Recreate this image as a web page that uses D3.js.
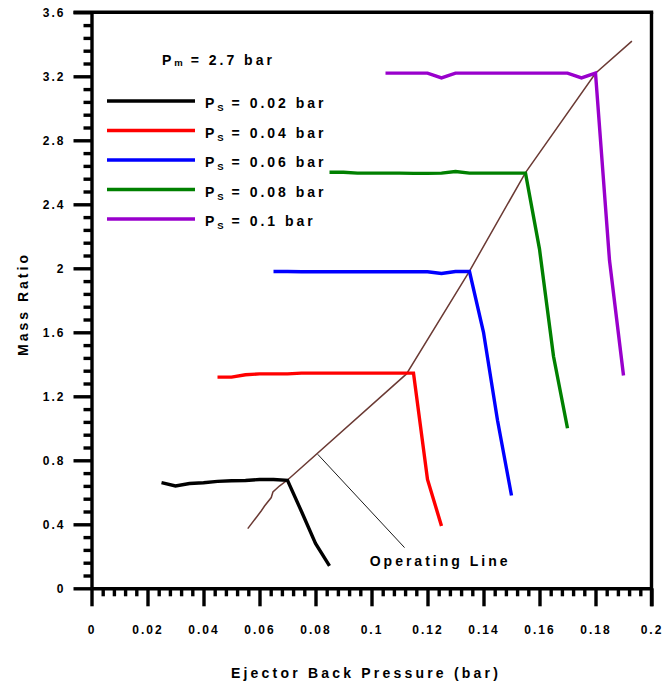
<!DOCTYPE html>
<html>
<head>
<meta charset="utf-8">
<script src="https://cdn.jsdelivr.net/npm/d3@7"></script>
<style>
  body { margin: 0; background: #fff; }
  text { font-family: "Liberation Sans", Arial, sans-serif; font-weight: bold; fill: #000; }
</style>
</head>
<body>
<div id="chart"></div>
<script>
// back pressure (bar) vs mass ratio, one pair of arrays per suction pressure
var bp002 = [0.025, 0.03, 0.035, 0.04, 0.045, 0.05, 0.055, 0.06, 0.065, 0.07, 0.075, 0.08, 0.085];
var mr002 = [0.66, 0.64, 0.655, 0.66, 0.668, 0.672, 0.674, 0.68, 0.68, 0.675, 0.48, 0.28, 0.14];

var bp004 = [0.045, 0.05, 0.055, 0.06, 0.065, 0.07, 0.075, 0.08, 0.085, 0.09, 0.095, 0.1, 0.105, 0.11, 0.115, 0.12, 0.125];
var mr004 = [1.32, 1.32, 1.335, 1.34, 1.34, 1.34, 1.345, 1.345, 1.345, 1.345, 1.345, 1.345, 1.345, 1.345, 1.345, 0.68, 0.39];

var bp006 = [0.065, 0.07, 0.075, 0.08, 0.085, 0.09, 0.095, 0.1, 0.105, 0.11, 0.115, 0.12, 0.125, 0.13, 0.135, 0.14, 0.145, 0.15];
var mr006 = [1.98, 1.98, 1.978, 1.978, 1.978, 1.978, 1.978, 1.978, 1.978, 1.978, 1.978, 1.978, 1.968, 1.98, 1.98, 1.6, 1.05, 0.58];

var bp008 = [0.085, 0.09, 0.095, 0.1, 0.105, 0.11, 0.115, 0.12, 0.125, 0.13, 0.135, 0.14, 0.145, 0.15, 0.155, 0.16, 0.165, 0.17];
var mr008 = [2.6, 2.6, 2.595, 2.595, 2.595, 2.595, 2.593, 2.593, 2.595, 2.605, 2.595, 2.595, 2.595, 2.595, 2.595, 2.12, 1.45, 1.0];

var bp010 = [0.105, 0.11, 0.115, 0.12, 0.125, 0.13, 0.135, 0.14, 0.145, 0.15, 0.155, 0.16, 0.165, 0.17, 0.175, 0.18, 0.185, 0.19];
var mr010 = [3.22, 3.22, 3.22, 3.22, 3.19, 3.22, 3.22, 3.22, 3.22, 3.22, 3.22, 3.22, 3.22, 3.22, 3.19, 3.22, 2.05, 1.33];

// operating line through the break points
var opX = [0.0558, 0.0606, 0.0618, 0.0642, 0.0648, 0.0671, 0.07, 0.1125, 0.135, 0.155, 0.18, 0.193];
var opY = [0.373, 0.483, 0.514, 0.567, 0.602, 0.639, 0.677, 1.34, 1.983, 2.598, 3.219, 3.42];

// leader from the operating line to its label
var annotX = [0.0808, 0.1118];
var annotY = [0.8375, 0.2544];
var annotText = "Operating Line";
var annotPos = [0.1245, 0.14];

var psLabels = ["0.02", "0.04", "0.06", "0.08", "0.1"];
var pmLabel = "2.7";
var xTitle = "Ejector Back Pressure (bar)";
var yTitle = "Mass Ratio";

var xMajor = d3.range(0, 11).map(function(i) { return +(i * 0.02).toFixed(2); });
var xMinor = d3.range(0, 51).filter(function(i) { return i % 5 != 0; }).map(function(i) { return i * 0.004; });
var yMajor = d3.range(0, 10).map(function(i) { return +(i * 0.4).toFixed(1); });
var yMinor = d3.range(0, 46).filter(function(i) { return i % 5 != 0; }).map(function(i) { return i * 0.08; });

var colors = ["#000000", "#ff0000", "#0000ff", "#008000", "#9900cc"];

var width = 665, height = 687;
var margin = { top: 12.3, right: 13.5, bottom: 98.7, left: 91.5 };

var svg = d3.select("#chart").append("svg")
    .attr("width", width)
    .attr("height", height);

var x = d3.scaleLinear().domain([0, 0.2]).range([margin.left, width - margin.right]);
var y = d3.scaleLinear().domain([0, 3.6]).range([height - margin.bottom, margin.top]);

var fmt = function(d) { return String(+d.toFixed(2)); };

// minor ticks
svg.append("g")
    .attr("transform", "translate(0," + y(0) + ")")
    .call(d3.axisBottom(x).tickValues(xMinor).tickSize(8).tickFormat(""))
    .call(function(g) { g.select(".domain").remove(); });
svg.append("g")
    .attr("transform", "translate(" + x(0) + ",0)")
    .call(d3.axisLeft(y).tickValues(yMinor).tickSize(8).tickFormat(""))
    .call(function(g) { g.select(".domain").remove(); });

// major ticks + labels
var xAxis = svg.append("g")
    .attr("transform", "translate(0," + y(0) + ")")
    .call(d3.axisBottom(x).tickValues(xMajor).tickSize(18).tickSizeOuter(0).tickPadding(19).tickFormat(fmt));
var yAxis = svg.append("g")
    .attr("transform", "translate(" + x(0) + ",0)")
    .call(d3.axisLeft(y).tickValues(yMajor).tickSize(18).tickSizeOuter(0).tickPadding(8).tickFormat(fmt));

svg.selectAll(".tick line, .domain")
    .attr("stroke", "#000")
    .attr("stroke-width", 3.4);
svg.selectAll(".tick text")
    .attr("font-family", "Liberation Sans, Arial, sans-serif")
    .attr("font-size", 12)
    .attr("font-weight", "bold")
    .attr("letter-spacing", 2);

// top and right frame
svg.append("line")
    .attr("x1", x(0) - 18).attr("x2", x(0.2) + 1.7)
    .attr("y1", y(3.6)).attr("y2", y(3.6))
    .attr("stroke", "#000").attr("stroke-width", 3.4);
svg.append("line")
    .attr("x1", x(0.2)).attr("x2", x(0.2))
    .attr("y1", y(3.6)).attr("y2", y(0) + 18)
    .attr("stroke", "#000").attr("stroke-width", 3.4);

var line = d3.line()
    .x(function(d) { return x(d[0]); })
    .y(function(d) { return y(d[1]); });

function pairs(a, b) { return a.map(function(v, i) { return [v, b[i]]; }); }

// operating line
svg.append("path")
    .datum(pairs(opX, opY))
    .attr("d", line)
    .attr("fill", "none")
    .attr("stroke", "#6b3a34")
    .attr("stroke-width", 1.5);

svg.append("path")
    .datum(pairs(annotX, annotY))
    .attr("d", line)
    .attr("fill", "none")
    .attr("stroke", "#000")
    .attr("stroke-width", 0.9);

svg.append("text")
    .attr("x", x(annotPos[0]))
    .attr("y", y(annotPos[1]))
    .attr("text-anchor", "middle")
    .attr("font-size", 14)
    .attr("letter-spacing", 3)
    .text(annotText);

var seriesX = [bp002, bp004, bp006, bp008, bp010];
var seriesY = [mr002, mr004, mr006, mr008, mr010];

svg.selectAll(".series")
    .data(seriesX)
    .enter().append("path")
    .attr("class", "series")
    .attr("d", function(d, i) { return line(pairs(d, seriesY[i])); })
    .attr("fill", "none")
    .attr("stroke", function(d, i) { return colors[i]; })
    .attr("stroke-width", 3.4);

// legend
var pm = svg.append("text")
    .attr("x", 162)
    .attr("y", 65)
    .attr("font-size", 14)
    .attr("letter-spacing", 3);
pm.append("tspan").text("P");
pm.append("tspan").attr("font-size", 9.5).attr("dy", 1).attr("letter-spacing", 1).text("m");
pm.append("tspan").attr("dy", -1).text(" = " + pmLabel + " bar");

var legend = svg.selectAll(".legend")
    .data(psLabels)
    .enter().append("g")
    .attr("class", "legend")
    .attr("transform", function(d, i) { return "translate(0," + (101 + i * 29.5) + ")"; });

legend.append("line")
    .attr("x1", 107).attr("x2", 195)
    .attr("stroke", function(d, i) { return colors[i]; })
    .attr("stroke-width", 3.4);

var lt = legend.append("text")
    .attr("x", 205)
    .attr("y", 7)
    .attr("font-size", 14)
    .attr("letter-spacing", 3);
lt.append("tspan").text("P");
lt.append("tspan").attr("font-size", 9.5).attr("dy", 3).attr("letter-spacing", 1).text("S");
lt.append("tspan").attr("dy", -3).text(function(d) { return " = " + d + " bar"; });

// axis titles
svg.append("text")
    .attr("x", 366)
    .attr("y", 678)
    .attr("text-anchor", "middle")
    .attr("font-size", 14)
    .attr("letter-spacing", 3.2)
    .text(xTitle);

svg.append("text")
    .attr("transform", "translate(28,304) rotate(-90)")
    .attr("text-anchor", "middle")
    .attr("font-size", 14)
    .attr("letter-spacing", 3)
    .text(yTitle);
</script>
</body>
</html>
